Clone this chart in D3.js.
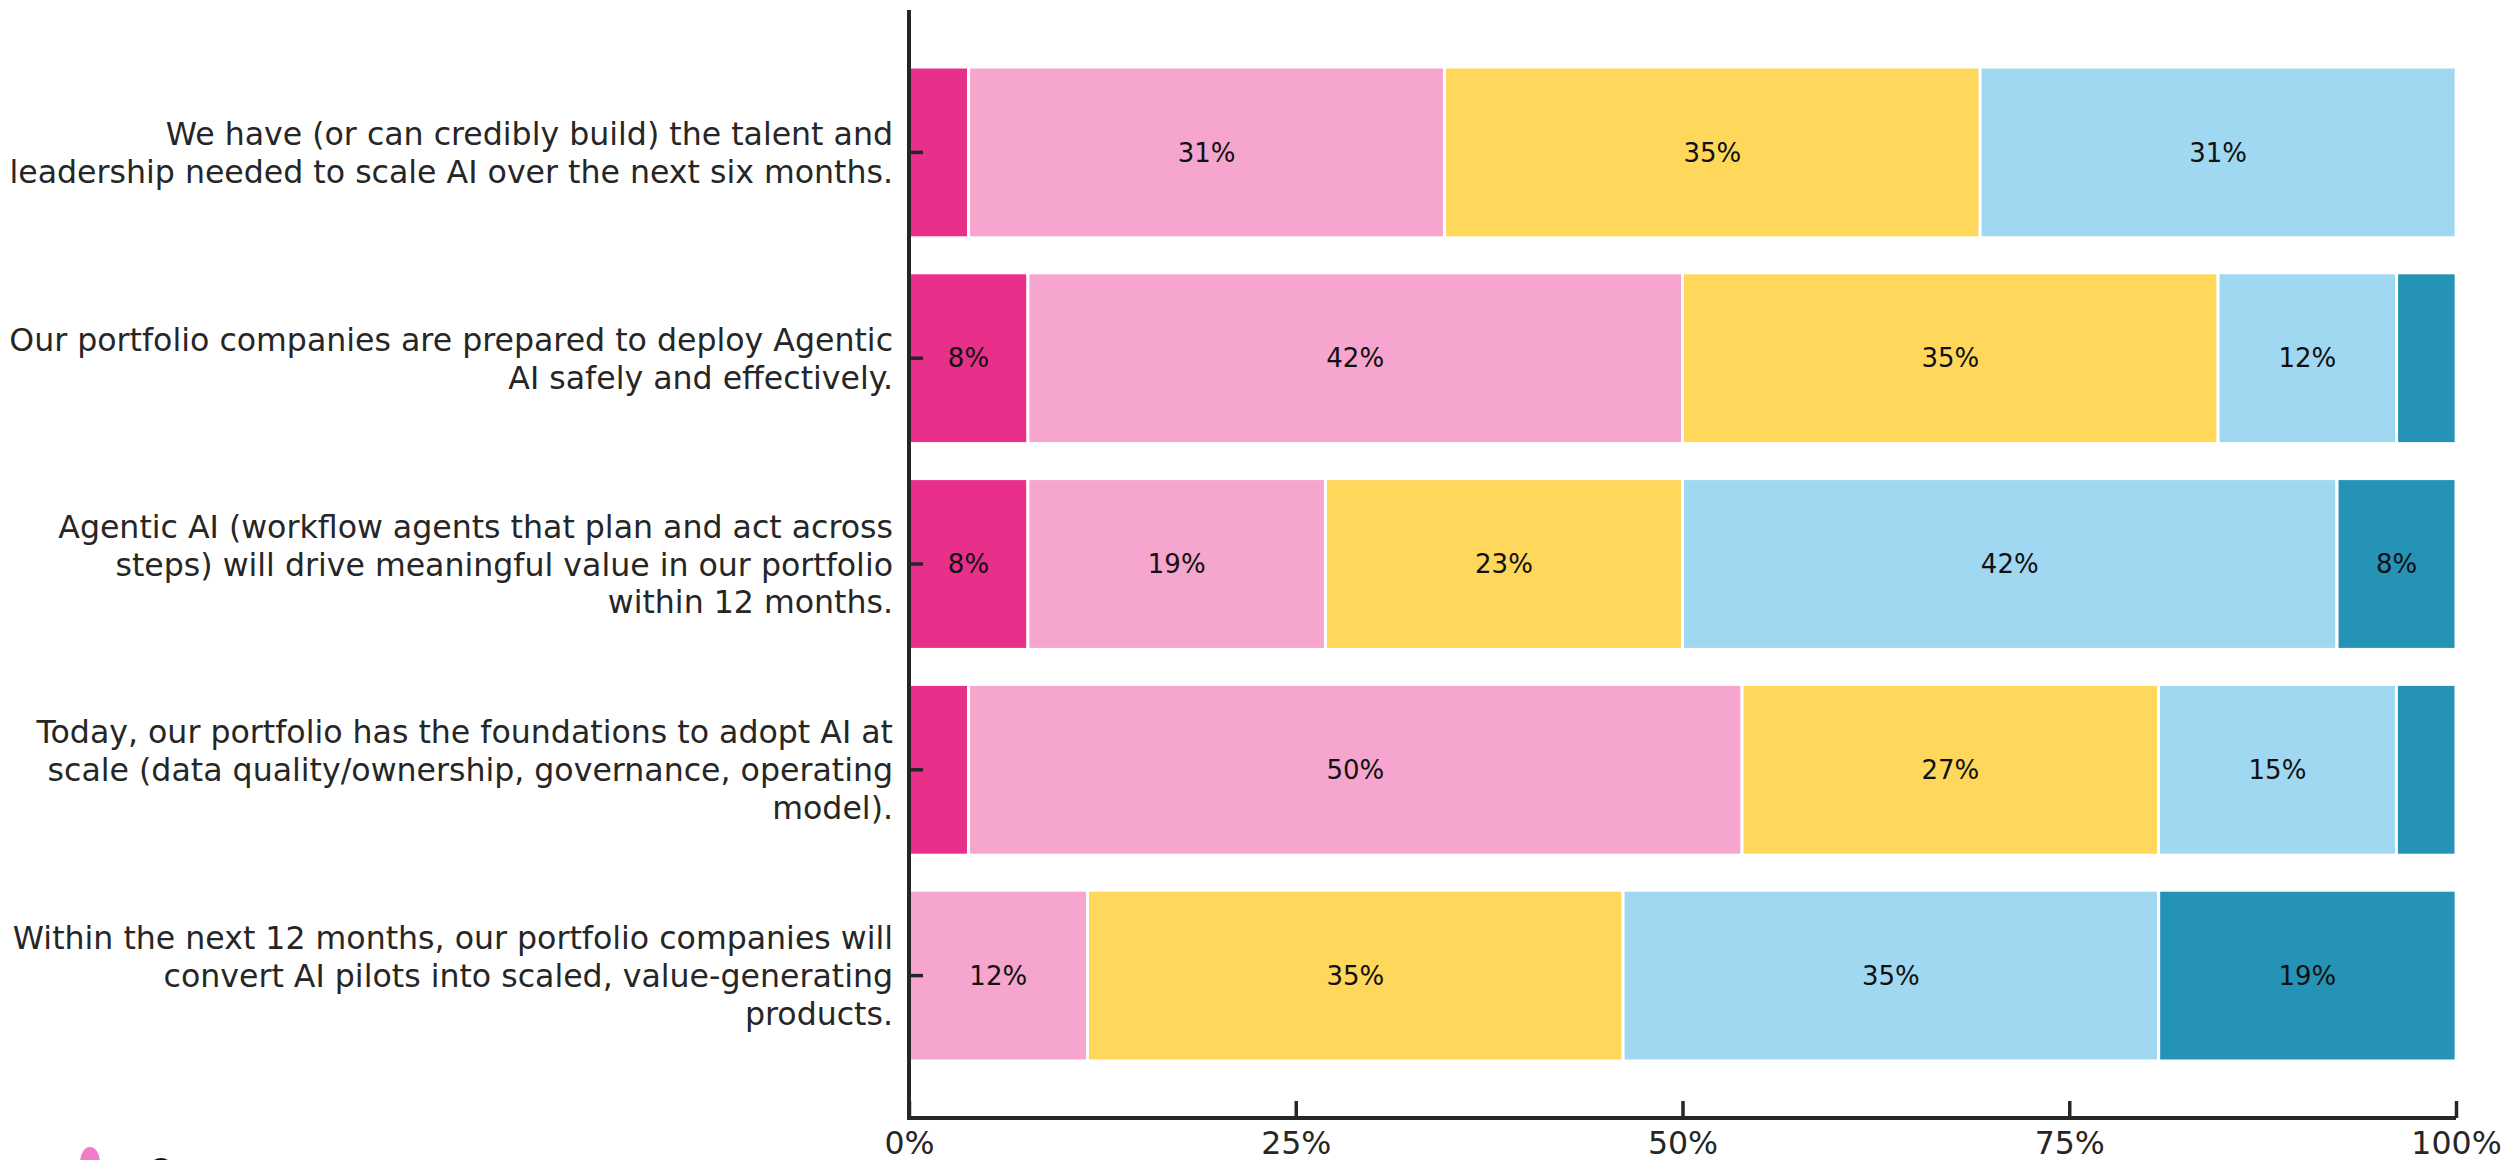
<!DOCTYPE html>
<html>
<head>
<meta charset="utf-8">
<script src="https://cdn.jsdelivr.net/npm/d3@7"></script>
<style>
  body { margin: 0; background: #fff; }
  svg { display: block; font-family: "DejaVu Sans", sans-serif; }
</style>
</head>
<body>
<div id="chart"></div>
<script>
// survey statements (top to bottom)
const categories = [
    "We have (or can credibly build) the talent and leadership needed to scale AI over the next six months.",
    "Our portfolio companies are prepared to deploy Agentic AI safely and effectively.",
    "Agentic AI (workflow agents that plan and act across steps) will drive meaningful value in our portfolio within 12 months.",
    "Today, our portfolio has the foundations to adopt AI at scale (data quality/ownership, governance, operating model).",
    "Within the next 12 months, our portfolio companies will convert AI pilots into scaled, value-generating products."
];

const seriesNames = ["Strongly disagree", "Disagree", "Neutral", "Agree", "Strongly agree"];
const seriesColors = ["#E8308A", "#F6A5CE", "#FED75B", "#A0D8F1", "#2593B5"];

// share of respondents, in %
const stronglyDisagree = [3.85, 7.69, 7.69, 3.85, 0];
const disagree         = [30.77, 42.31, 19.23, 50.00, 11.54];
const neutral          = [34.62, 34.62, 23.08, 26.92, 34.62];
const agree            = [30.77, 11.54, 42.31, 15.38, 34.62];
const stronglyAgree    = [0, 3.85, 7.69, 3.85, 19.23];

const xTicks = [0, 25, 50, 75, 100];

// build rows for d3.stack
let rows = categories.map((c, i) => ({
    category: c,
    "Strongly disagree": stronglyDisagree[i],
    "Disagree": disagree[i],
    "Neutral": neutral[i],
    "Agree": agree[i],
    "Strongly agree": stronglyAgree[i]
}));

let width = 2504, height = 1160;
let margin = {left: 909, right: 48, top: 10, bottom: 42};

let svg = d3.select("#chart").append("svg")
    .attr("width", width)
    .attr("height", height);

let x = d3.scaleLinear()
    .domain([0, 100])
    .range([margin.left, width - margin.right]);

let y = d3.scaleBand()
    .domain(categories)
    .range([margin.top, height - margin.bottom])
    .paddingInner(0.17)
    .paddingOuter(0.277);

let stack = d3.stack().keys(seriesNames);
let stacked = stack(rows);

// bars
let layers = svg.append("g").attr("class", "bars")
    .selectAll("g")
    .data(stacked)
    .join("g")
    .attr("fill", (d, i) => seriesColors[i]);

layers.selectAll("rect")
    .data(d => d.filter(s => s[1] - s[0] > 0))
    .join("rect")
    .attr("x", d => x(d[0]))
    .attr("y", d => y(d.data.category))
    .attr("width", d => x(d[1]) - x(d[0]))
    .attr("height", y.bandwidth())
    .attr("stroke", "#fff")
    .attr("stroke-width", 3);

// value labels (only segments >= 5%)
let labelGroup = svg.append("g").attr("class", "value-labels");
stacked.forEach(layer => {
    layer.forEach(s => {
        let v = s[1] - s[0];
        if (v < 5) return;
        labelGroup.append("text")
            .attr("x", x((s[0] + s[1]) / 2))
            .attr("y", y(s.data.category) + y.bandwidth() / 2)
            .attr("dy", "0.35em")
            .attr("text-anchor", "middle")
            .attr("font-size", 26)
            .attr("fill", "#111")
            .text(Math.round(v) + "%");
    });
});

// wrap long statements like textwrap(width=55)
function wrap(str, w) {
    let words = str.split(" "), lines = [], cur = "";
    words.forEach(wd => {
        if (cur === "") cur = wd;
        else if ((cur + " " + wd).length <= w) cur += " " + wd;
        else { lines.push(cur); cur = wd; }
    });
    if (cur) lines.push(cur);
    return lines;
}

// y axis
let yAxis = d3.axisLeft(y).tickSize(-14).tickFormat("");
let yG = svg.append("g")
    .attr("transform", `translate(${margin.left},0)`)
    .call(yAxis);
yG.select(".domain").remove();
yG.selectAll(".tick line").attr("stroke", "#262626").attr("stroke-width", 3.5);

let fs = 31.6;
let lineH = 37.9;
categories.forEach(c => {
    let lines = wrap(c, 55);
    let cy = y(c) + y.bandwidth() / 2;
    let t = svg.append("text")
        .attr("text-anchor", "end")
        .attr("font-size", fs)
        .attr("fill", "#262626");
    lines.forEach((ln, k) => {
        t.append("tspan")
            .attr("x", 893)
            .attr("y", cy + (k - (lines.length - 1) / 2) * lineH + 11.5)
            .text(ln);
    });
});

// x axis
let xAxis = d3.axisBottom(x)
    .tickValues(xTicks)
    .tickSize(-17)
    .tickPadding(14)
    .tickFormat(d => d + "%");
let xG = svg.append("g")
    .attr("transform", `translate(0,${height - margin.bottom})`)
    .call(xAxis);
xG.select(".domain").remove();
xG.selectAll(".tick line").attr("stroke", "#262626").attr("stroke-width", 3.5);
xG.selectAll(".tick text")
    .attr("font-size", fs)
    .attr("font-family", "DejaVu Sans, sans-serif")
    .attr("fill", "#262626");

// spines
svg.append("line")
    .attr("x1", margin.left).attr("x2", margin.left)
    .attr("y1", margin.top).attr("y2", height - margin.bottom + 2)
    .attr("stroke", "#262626").attr("stroke-width", 4);
svg.append("line")
    .attr("x1", margin.left - 2).attr("x2", width - margin.right)
    .attr("y1", height - margin.bottom).attr("y2", height - margin.bottom)
    .attr("stroke", "#262626").attr("stroke-width", 4);

// legend marks peeking in at the bottom edge (cut off by the frame)
let lg = svg.append("g").attr("class", "legend");
lg.append("ellipse").attr("cx", 87).attr("cy", 1174).attr("rx", 11).attr("ry", 16).attr("fill", "#111");
lg.append("ellipse").attr("cx", 90).attr("cy", 1162).attr("rx", 10).attr("ry", 15).attr("fill", "#F07DC8");
lg.append("ellipse").attr("cx", 161).attr("cy", 1174).attr("rx", 14).attr("ry", 16).attr("fill", "#111");
</script>
</body>
</html>
